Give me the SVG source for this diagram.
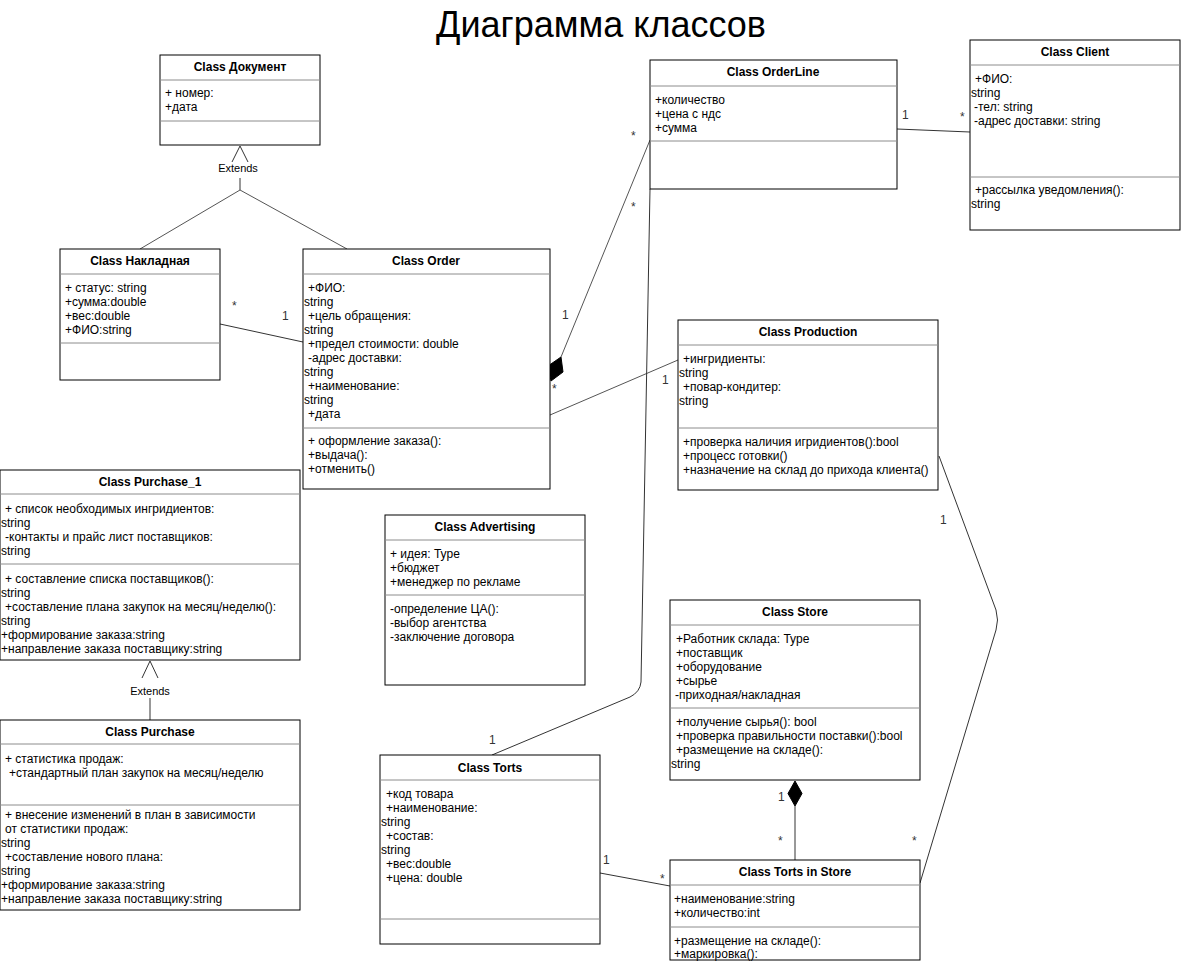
<svg xmlns="http://www.w3.org/2000/svg" width="1181" height="961" viewBox="0 0 1181 961">
<style>
.box{fill:#fff;stroke:#000;stroke-width:1}
.sep{stroke:#8c8c8c;stroke-width:1}
.t{font-family:"Liberation Sans",Arial,sans-serif;font-size:12px;fill:#000}
.h{font-family:"Liberation Sans",Arial,sans-serif;font-size:12px;font-weight:bold;fill:#000;text-anchor:middle}
.c{fill:none;stroke:#333;stroke-width:1}
.cg{fill:none;stroke:#555;stroke-width:1}
.lbl{font-family:"Liberation Sans",Arial,sans-serif;font-size:12px;fill:#333}
.ext{font-family:"Liberation Sans",Arial,sans-serif;font-size:11px;fill:#000;text-anchor:middle}
.title{font-family:"Liberation Sans",Arial,sans-serif;font-size:36px;fill:#000;text-anchor:middle}
</style>
<rect width="1181" height="961" fill="#fff"/>
<text class="title" x="601" y="37">Диаграмма классов</text>

<g id="connectors">
  <!-- Extends Document -->
  <polyline class="c" points="232,162 240,146 248,162"/>
  <line class="c" x1="240" y1="178" x2="240" y2="190"/>
  <line class="cg" x1="240" y1="190" x2="140" y2="249"/>
  <line class="cg" x1="240" y1="190" x2="347" y2="249"/>
  <text class="ext" x="238" y="172">Extends</text>
  <!-- Nakladnaya - Order -->
  <line class="c" x1="220" y1="324" x2="303" y2="342"/>
  <text class="lbl" x="232" y="310">*</text>
  <text class="lbl" x="282" y="320">1</text>
  <!-- Order - OrderLine composition -->
  <line class="cg" x1="650" y1="140" x2="561" y2="357"/>
  <polygon points="551,381 548,366 561,357 563,372" fill="#000" stroke="#000"/>
  <text class="lbl" x="631" y="140">*</text>
  <text class="lbl" x="562" y="319">1</text>
  <text class="lbl" x="552" y="393">*</text>
  <!-- OrderLine - Client -->
  <line class="c" x1="897" y1="129" x2="970" y2="132"/>
  <text class="lbl" x="902" y="119">1</text>
  <text class="lbl" x="960" y="121">*</text>
  <!-- Order - Production -->
  <line class="cg" x1="550" y1="415" x2="678" y2="360"/>
  <text class="lbl" x="662" y="384">1</text>
  <!-- OrderLine - Torts -->
  <path class="c" d="M650,189 L641,682 Q640,692 630,697 L492,755"/>
  <text class="lbl" x="631" y="211">*</text>
  <text class="lbl" x="489" y="744">1</text>
  <!-- Production - TortsInStore -->
  <path class="c" d="M939,456 L996,610 Q999,620 996,630 L920,883"/>
  <text class="lbl" x="940" y="524">1</text>
  <text class="lbl" x="912" y="845">*</text>
  <!-- Store - TortsInStore composition -->
  <line class="c" x1="795" y1="806" x2="795" y2="860"/>
  <polygon points="795,781 802,793.5 795,806 788,793.5" fill="#000" stroke="#000"/>
  <text class="lbl" x="778" y="801">1</text>
  <text class="lbl" x="778" y="845">*</text>
  <!-- Torts - TortsInStore -->
  <line class="c" x1="600" y1="873" x2="670" y2="886"/>
  <text class="lbl" x="603" y="864">1</text>
  <text class="lbl" x="660" y="883">*</text>
  <!-- Extends Purchase -->
  <polyline class="c" points="142,678 150,661 158,678"/>
  <line class="c" x1="150" y1="698" x2="150" y2="720"/>
  <text class="ext" x="150" y="695">Extends</text>
</g>

<g id="document">
  <rect class="box" x="160" y="55" width="160" height="90"/>
  <line class="sep" x1="160" y1="80" x2="320" y2="80"/>
  <line class="sep" x1="160" y1="121" x2="320" y2="121"/>
  <text class="h" x="240" y="71">Class Документ</text>
  <text class="t" x="165" y="97">+ номер:</text>
  <text class="t" x="165" y="111">+дата</text>
</g>

<g id="nakladnaya">
  <rect class="box" x="60" y="249" width="160" height="131"/>
  <line class="sep" x1="60" y1="274" x2="220" y2="274"/>
  <line class="sep" x1="60" y1="343" x2="220" y2="343"/>
  <text class="h" x="140" y="265">Class Накладная</text>
  <text class="t" x="65" y="292">+ статус: string</text>
  <text class="t" x="65" y="306">+сумма:double</text>
  <text class="t" x="65" y="320">+вес:double</text>
  <text class="t" x="65" y="334">+ФИО:string</text>
</g>

<g id="order">
  <rect class="box" x="303" y="249" width="247" height="240"/>
  <line class="sep" x1="303" y1="274" x2="550" y2="274"/>
  <line class="sep" x1="303" y1="428" x2="550" y2="428"/>
  <text class="h" x="426" y="265">Class Order</text>
  <text class="t" x="308" y="292">+ФИО:</text>
  <text class="t" x="304" y="306">string</text>
  <text class="t" x="308" y="320">+цель обращения:</text>
  <text class="t" x="304" y="334">string</text>
  <text class="t" x="308" y="348">+предел стоимости: double</text>
  <text class="t" x="308" y="362">-адрес доставки:</text>
  <text class="t" x="304" y="376">string</text>
  <text class="t" x="308" y="390">+наименование:</text>
  <text class="t" x="304" y="404">string</text>
  <text class="t" x="308" y="418">+дата</text>
  <text class="t" x="308" y="445">+ оформление заказа():</text>
  <text class="t" x="308" y="459">+выдача():</text>
  <text class="t" x="308" y="473">+отменить()</text>
</g>

<g id="orderline">
  <rect class="box" x="650" y="60" width="247" height="129"/>
  <line class="sep" x1="650" y1="86" x2="897" y2="86"/>
  <line class="sep" x1="650" y1="141" x2="897" y2="141"/>
  <text class="h" x="773" y="76">Class OrderLine</text>
  <text class="t" x="655" y="104">+количество</text>
  <text class="t" x="655" y="118">+цена с ндс</text>
  <text class="t" x="655" y="132">+сумма</text>
</g>

<g id="client">
  <rect class="box" x="970" y="40" width="210" height="190"/>
  <line class="sep" x1="970" y1="65" x2="1180" y2="65"/>
  <line class="sep" x1="970" y1="177" x2="1180" y2="177"/>
  <text class="h" x="1075" y="56">Class Client</text>
  <text class="t" x="975" y="83">+ФИО:</text>
  <text class="t" x="971" y="97">string</text>
  <text class="t" x="974" y="111">-тел: string</text>
  <text class="t" x="974" y="125">-адрес доставки: string</text>
  <text class="t" x="975" y="194">+рассылка уведомления():</text>
  <text class="t" x="971" y="208">string</text>
</g>

<g id="production">
  <rect class="box" x="678" y="320" width="260" height="170"/>
  <line class="sep" x1="678" y1="345" x2="938" y2="345"/>
  <line class="sep" x1="678" y1="428" x2="938" y2="428"/>
  <text class="h" x="808" y="336">Class Production</text>
  <text class="t" x="683" y="363">+ингридиенты:</text>
  <text class="t" x="679" y="377">string</text>
  <text class="t" x="683" y="391">+повар-кондитер:</text>
  <text class="t" x="679" y="405">string</text>
  <text class="t" x="683" y="446">+проверка наличия игридиентов():bool</text>
  <text class="t" x="683" y="460">+процесс готовки()</text>
  <text class="t" x="683" y="474">+назначение на склад до прихода клиента()</text>
</g>

<g id="purchase1">
  <rect class="box" x="0" y="470" width="300" height="190"/>
  <line class="sep" x1="0" y1="494" x2="300" y2="494"/>
  <line class="sep" x1="0" y1="564" x2="300" y2="564"/>
  <text class="h" x="150" y="486">Class Purchase_1</text>
  <text class="t" x="5" y="513">+ список необходимых ингридиентов:</text>
  <text class="t" x="1" y="527">string</text>
  <text class="t" x="5" y="541">-контакты и прайс лист поставщиков:</text>
  <text class="t" x="1" y="555">string</text>
  <text class="t" x="5" y="583">+ составление списка поставщиков():</text>
  <text class="t" x="1" y="597">string</text>
  <text class="t" x="5" y="611">+составление плана закупок на месяц/неделю():</text>
  <text class="t" x="1" y="625">string</text>
  <text class="t" x="1" y="639">+формирование заказа:string</text>
  <text class="t" x="1" y="653">+направление заказа поставщику:string</text>
</g>

<g id="purchase">
  <rect class="box" x="0" y="720" width="300" height="190"/>
  <line class="sep" x1="0" y1="744" x2="300" y2="744"/>
  <line class="sep" x1="0" y1="805" x2="300" y2="805"/>
  <text class="h" x="150" y="736">Class Purchase</text>
  <text class="t" x="5" y="763">+ статистика продаж:</text>
  <text class="t" x="9" y="777">+стандартный план закупок на месяц/неделю</text>
  <text class="t" x="5" y="819">+ внесение изменений в план в зависимости</text>
  <text class="t" x="5" y="833">от статистики продаж:</text>
  <text class="t" x="1" y="847">string</text>
  <text class="t" x="5" y="861">+составление нового плана:</text>
  <text class="t" x="1" y="875">string</text>
  <text class="t" x="1" y="889">+формирование заказа:string</text>
  <text class="t" x="1" y="903">+направление заказа поставщику:string</text>
</g>

<g id="advertising">
  <rect class="box" x="385" y="515" width="200" height="170"/>
  <line class="sep" x1="385" y1="540" x2="585" y2="540"/>
  <line class="sep" x1="385" y1="595" x2="585" y2="595"/>
  <text class="h" x="485" y="531">Class Advertising</text>
  <text class="t" x="390" y="558">+ идея: Type</text>
  <text class="t" x="390" y="572">+бюджет</text>
  <text class="t" x="390" y="586">+менеджер по рекламе</text>
  <text class="t" x="390" y="613">-определение ЦА():</text>
  <text class="t" x="390" y="627">-выбор агентства</text>
  <text class="t" x="390" y="641">-заключение договора</text>
</g>

<g id="store">
  <rect class="box" x="670" y="600" width="250" height="180"/>
  <line class="sep" x1="670" y1="625" x2="920" y2="625"/>
  <line class="sep" x1="670" y1="708" x2="920" y2="708"/>
  <text class="h" x="795" y="616">Class Store</text>
  <text class="t" x="676" y="643">+Работник склада: Type</text>
  <text class="t" x="676" y="657">+поставщик</text>
  <text class="t" x="676" y="671">+оборудование</text>
  <text class="t" x="676" y="685">+сырье</text>
  <text class="t" x="675" y="699">-приходная/накладная</text>
  <text class="t" x="676" y="726">+получение сырья(): bool</text>
  <text class="t" x="676" y="740">+проверка правильности поставки():bool</text>
  <text class="t" x="676" y="754">+размещение на складе():</text>
  <text class="t" x="671" y="768">string</text>
</g>

<g id="torts">
  <rect class="box" x="380" y="755" width="220" height="189"/>
  <line class="sep" x1="380" y1="780" x2="600" y2="780"/>
  <line class="sep" x1="380" y1="919" x2="600" y2="919"/>
  <text class="h" x="490" y="772">Class Torts</text>
  <text class="t" x="386" y="798">+код товара</text>
  <text class="t" x="386" y="812">+наименование:</text>
  <text class="t" x="381" y="826">string</text>
  <text class="t" x="386" y="840">+состав:</text>
  <text class="t" x="381" y="854">string</text>
  <text class="t" x="386" y="868">+вес:double</text>
  <text class="t" x="386" y="882">+цена: double</text>
</g>

<g id="tortsinstore">
  <rect class="box" x="670" y="860" width="250" height="100"/>
  <line class="sep" x1="670" y1="885" x2="920" y2="885"/>
  <line class="sep" x1="670" y1="927" x2="920" y2="927"/>
  <text class="h" x="795" y="876">Class Torts in Store</text>
  <text class="t" x="674" y="903">+наименование:string</text>
  <text class="t" x="674" y="917">+количество:int</text>
  <text class="t" x="674" y="945">+размещение на складе():</text>
  <text class="t" x="674" y="958">+маркировка():</text>
</g>
</svg>
